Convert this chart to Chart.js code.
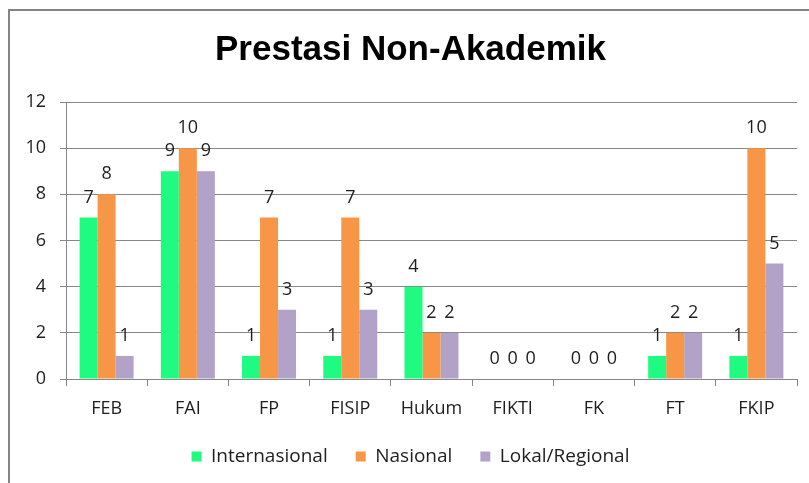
<!DOCTYPE html>
<html>
<head>
<meta charset="utf-8">
<script src="https://cdn.jsdelivr.net/npm/chart.js@4"></script>
<style>
  html, body { margin: 0; padding: 0; background: #ffffff; }
  #wrap { width: 809px; height: 483px; position: relative; }
</style>
</head>
<body>
<div id="wrap"><canvas id="chart" width="809" height="483"></canvas></div>
<script>
// Faculties and achievement counts per level
const categories = ['FEB', 'FAI', 'FP', 'FISIP', 'Hukum', 'FIKTI', 'FK', 'FT', 'FKIP'];
const internasional = [7, 9, 1, 1, 4, 0, 0, 1, 1];
const nasional = [8, 10, 7, 7, 2, 0, 0, 2, 10];
const lokalRegional = [1, 9, 3, 3, 2, 0, 0, 2, 5];
const seriesNames = ['Internasional', 'Nasional', 'Lokal/Regional'];
const yTicks = [0, 2, 4, 6, 8, 10, 12];

const TEXT = '#1e1e1e';
const GRID = '#878787';
const FONT = "'Open Sans', 'DejaVu Sans', sans-serif";

// Grey frame around the whole chart
const framePlugin = {
  id: 'frame',
  beforeDraw(chart) {
    const ctx = chart.ctx;
    ctx.save();
    ctx.fillStyle = '#ffffff';
    ctx.fillRect(0, 0, chart.width, chart.height);
    ctx.strokeStyle = '#858585';
    ctx.lineWidth = 2;
    ctx.strokeRect(9, 10, chart.width + 20, chart.height + 20);
    ctx.restore();
  }
};

// Value labels above every bar
const valueLabels = {
  id: 'valueLabels',
  afterDatasetsDraw(chart) {
    const ctx = chart.ctx;
    ctx.save();
    ctx.font = '18px ' + FONT;
    ctx.fillStyle = TEXT;
    ctx.textAlign = 'center';
    ctx.textBaseline = 'middle';
    chart.data.datasets.forEach((ds, i) => {
      chart.getDatasetMeta(i).data.forEach((bar, j) => {
        ctx.fillText(String(ds.data[j]), bar.x, bar.y - 20);
      });
    });
    ctx.restore();
  }
};

new Chart(document.getElementById('chart'), {
  type: 'bar',
  data: {
    labels: categories,
    datasets: [
      { label: seriesNames[0], data: internasional, backgroundColor: '#1efb80' },
      { label: seriesNames[1], data: nasional, backgroundColor: '#f79646' },
      { label: seriesNames[2], data: lokalRegional, backgroundColor: '#b2a2c7' }
    ]
  },
  options: {
    responsive: false,
    animation: false,
    devicePixelRatio: 1,
    layout: { padding: { left: 24, right: 12, top: 0, bottom: 7 } },
    datasets: { bar: { categoryPercentage: 0.665, barPercentage: 1.0 } },
    plugins: {
      title: {
        display: true,
        text: 'Prestasi Non-Akademik',
        color: '#000000',
        font: { family: "'Liberation Sans', Arial, sans-serif", size: 35, weight: 'bold', lineHeight: 1.2 },
        padding: { top: 29, bottom: 31 }
      },
      legend: {
        position: 'bottom',
        labels: {
          color: TEXT,
          font: { family: FONT, size: 19 },
          boxWidth: 10,
          boxHeight: 10,
          padding: 28
        }
      },
      tooltip: { enabled: false }
    },
    scales: {
      x: {
        grid: {
          offset: true,
          drawOnChartArea: false,
          drawTicks: true,
          tickLength: 7,
          color: GRID
        },
        border: { color: GRID, width: 1 },
        ticks: { color: TEXT, font: { family: FONT, size: 18 }, padding: 12 },
        afterFit(scale) { scale.height = 40; }
      },
      y: {
        min: 0,
        max: 12,
        afterBuildTicks(scale) { scale.ticks = yTicks.map(v => ({ value: v })); },
        grid: { color: GRID, tickLength: 6, drawTicks: true },
        border: { color: GRID, width: 1 },
        ticks: { color: TEXT, font: { family: FONT, size: 18 }, padding: 14 },
        afterFit(scale) { scale.width = 42; }
      }
    }
  },
  plugins: [framePlugin, valueLabels]
});
</script>
</body>
</html>
